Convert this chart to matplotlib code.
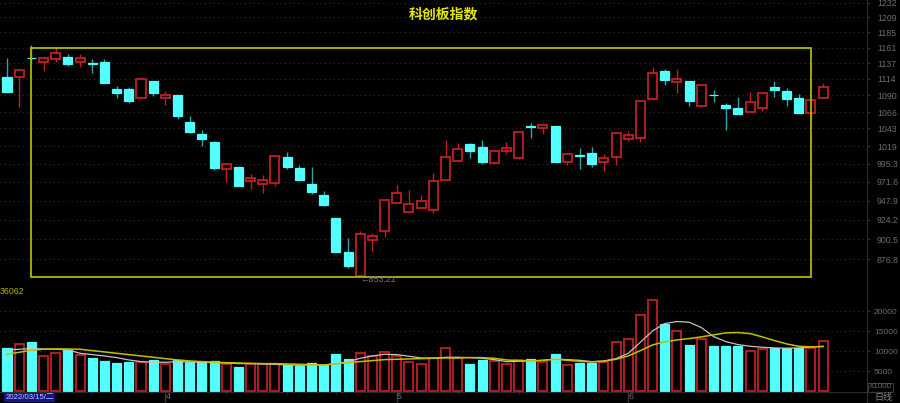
import matplotlib
matplotlib.use("Agg")
import matplotlib.pyplot as plt
from matplotlib.ticker import NullLocator, NullFormatter
from matplotlib.patches import Rectangle

plt.rcParams['font.family'] = ['Liberation Sans', 'Noto Sans CJK SC', 'DejaVu Sans']

title = "科创板指数"
price_ticks = [876.8, 900.5, 924.2, 947.9, 971.6, 995.3, 1019, 1043, 1066, 1090, 1114, 1137, 1161, 1185, 1209, 1232]
price_labels = ["876.8", "900.5", "924.2", "947.9", "971.6", "995.3", "1019", "1043", "1066", "1090", "1114", "1137", "1161", "1185", "1209", "1232"]
vol_ticks = [5000, 10000, 15000, 20000]
month_pos = [13, 32, 51]
month_labels = ["4", "5", "6"]
minor_pos = [7, 18, 23, 27, 37, 42, 47]

opens = [1117, 1116.6, 1146, 1138.7, 1144, 1146.3, 1139, 1137.6, 1138.7, 1098.5, 1098.5, 1085.4, 1111.2, 1086.3, 1089.8, 1051.4, 1034.8,
         1023.9, 988.1, 990.4, 972.8, 969, 969.8, 1003.7, 989.4, 969.5, 955, 926.2, 885.2, 858, 900, 910.3, 945.3, 933.2, 938.6,
         935.7, 974.7, 999.6, 1021.6, 1018, 996.4, 1011.7, 1003.2, 1046.7, 1043.9, 1046.3, 997.4, 1007.2, 1009, 997, 1004.5, 1028.8,
         1029.3, 1084.9, 1125.5, 1109.7, 1110.3, 1074.9, 1090.6, 1075.4, 1071.2, 1065.5, 1071.2, 1101.4, 1096, 1085.4, 1064.9, 1085.4]
highs = [1145, 1127, 1165, 1145.7, 1161.8, 1151.3, 1151.3, 1143.2, 1143.2, 1103.4, 1101.4, 1113.7, 1111.2, 1096, 1090.2, 1060.3, 1040.7,
         1025.6, 995.6, 990.4, 982.5, 980.3, 1005.8, 1011.2, 993.4, 990.4, 960, 926.2, 902.4, 910.3, 907.9, 948.2, 967.3, 960.9, 954.6,
         983.4, 1026.9, 1022.5, 1022.5, 1026.9, 1014.5, 1023.9, 1037.9, 1050, 1050, 1046.3, 1009, 1015.8, 1017.2, 1007.7, 1036.1, 1039.3,
         1081.6, 1131, 1128, 1128, 1110.3, 1104.4, 1097.5, 1078.3, 1086.9, 1095, 1094.6, 1111.2, 1100, 1091.7, 1083, 1107.3]
lows = [1094.6, 1073, 1139, 1126, 1139.5, 1133.5, 1132, 1123, 1107.3, 1086.3, 1079.1, 1085.4, 1088.7, 1075.9, 1056, 1036.6, 1018.9,
        986.8, 971.5, 966.4, 963.1, 957.1, 966, 989, 973.7, 955.9, 941, 885.2, 866.8, 858, 886, 903.1, 945.3, 932, 938.6,
        932.9, 974.7, 999.6, 1003.2, 995.6, 995.6, 1008.1, 1001, 1030.1, 1035.6, 997.8, 993.4, 988.1, 990.4, 985.9, 993.4, 1025.6,
        1024.7, 1083, 1104.8, 1093.5, 1074.4, 1074.9, 1080.6, 1040.7, 1063.5, 1065.5, 1067.7, 1087.7, 1074.4, 1064.9, 1055.6, 1085.4]
closes = [1095, 1127, 1145, 1145.7, 1153.3, 1136, 1145.7, 1136.8, 1108.2, 1092.7, 1081.1, 1113.7, 1092.7, 1090.7, 1059.8, 1037.5, 1028.4,
          989.8, 995.6, 966.4, 977.3, 974.7, 1005.8, 991.2, 974.7, 958.8, 942.8, 885.2, 869.1, 907.1, 904.3, 948.2, 957.1, 943.6, 947.3,
          972.8, 1004.5, 1014.5, 1011.7, 997.8, 1011.7, 1015.8, 1037.9, 1045.5, 1048, 997.8, 1007.7, 1006.2, 994.7, 1002.4, 1036.1, 1033.4,
          1081.1, 1122.2, 1112.7, 1113.2, 1082, 1104.4, 1089.8, 1072, 1063.5, 1080.6, 1093.1, 1097, 1084, 1064.9, 1083, 1102.3]
volumes = [10720, 11725, 12230, 8790, 9460, 10300, 9130, 8375, 7540, 7035, 7200, 7370, 7700, 6700, 7700, 7290, 7290, 7450, 6870, 5950,
           6870, 6700, 6870, 6450, 6200, 6950, 6530, 9300, 8120, 9460, 8880, 9880, 8790, 7290, 6780, 8375, 10720, 8200, 6870, 7790,
           7450, 6870, 7870, 8120, 7290, 9300, 6450, 7035, 7120, 7200, 12230, 13150, 19180, 22860, 16750, 15000, 11560, 12980, 11300, 11300,
           11300, 10130, 10550, 10890, 10800, 10720, 10800, 12560]
vol_white = [10300, 10470, 10640, 10550, 10470, 10300, 9460, 9130, 8790, 8375, 7790, 7370, 7200, 7200, 7370, 7290, 7200, 7120, 7035, 6870,
             6870, 6780, 6700, 6530, 6450, 6530, 6530, 6870, 7370, 8210, 8790, 9210, 9130, 8710, 8290, 8210, 8460, 8460, 8375, 8210,
             7870, 7370, 7450, 7540, 7700, 8040, 7870, 7700, 7370, 7540, 8120, 9460, 12230, 15075, 16920, 17420, 17250, 15910, 13650, 12400,
             11640, 11220, 10970, 10800, 10720, 10800, 11050, 11220]
vol_yellow = [9210, 9715, 10220, 10470, 10550, 10550, 10470, 10130, 9800, 9460, 9130, 8790, 8460, 8120, 7790, 7540, 7370, 7200, 7120, 7035,
              6950, 6870, 6870, 6780, 6700, 6620, 6530, 6780, 7120, 7370, 7620, 7870, 7960, 8040, 8120, 8210, 8290, 8290, 8375, 8375,
              8210, 7790, 7620, 7540, 7700, 7960, 7700, 7450, 7290, 7450, 7960, 8790, 10130, 11560, 12310, 12810, 13150, 13570, 14070, 14570,
              14660, 14400, 13570, 12650, 11810, 11220, 11050, 11140]
frame_left, frame_right = 2, 66
frame_top, frame_bottom = 1160.5, 856.5

BLACK = "#000000"
CYAN = "#54ffff"
CYAN_WICK = "#2fa5a5"
RED = "#c01f24"
FRAME = "#b4b400"
GRID = "#2e2e2e"
LINE = "#2c2c2c"
LABEL = "#6c6c6c"

W, H = 900, 403
fig = plt.figure(figsize=(W / 100, H / 100), dpi=100, facecolor=BLACK)
ax = fig.add_axes([0, 1 - 287.5 / H, 867 / W, 287.5 / H], facecolor=BLACK)
axv = fig.add_axes([0, (H - 391.7) / H, 867 / W, 104.2 / H], facecolor=BLACK)

xs = list(range(len(opens)))
up = [c >= o for o, c in zip(opens, closes)]

# candles
ax.vlines(xs, lows, highs, colors=[RED if u else CYAN_WICK for u in up], linewidth=1.0, zorder=2)
for x, o, c, u in zip(xs, opens, closes, up):
    lo, hi = min(o, c), max(o, c)
    if u:
        ax.bar(x, hi - lo, bottom=lo, width=0.74, facecolor=BLACK, edgecolor=RED, linewidth=1.3, zorder=3)
    else:
        ax.bar(x, hi - lo, bottom=lo, width=0.74, facecolor=CYAN, edgecolor=CYAN, linewidth=0.9, zorder=3)

# frame
ax.plot([frame_left, frame_right, frame_right, frame_left, frame_left],
        [frame_top, frame_top, frame_bottom, frame_bottom, frame_top],
        color=FRAME, linewidth=1.3, zorder=4, solid_joinstyle="miter")

ax.set_yscale("log")
ax.set_xlim(-0.575, 70.6)
ax.set_ylim(844.6, 1236.9)
ax.yaxis.tick_right()
ax.set_yticks(price_ticks)
ax.set_yticklabels(price_labels)
ax.yaxis.set_minor_locator(NullLocator())
ax.yaxis.set_minor_formatter(NullFormatter())
ax.set_xticks([])
ax.tick_params(axis="y", length=2.5, width=0.8, color=LINE, labelcolor=LABEL, labelsize=6.3, pad=4.7)
ax.grid(axis="y", color=GRID, linestyle=(0, (1, 3)), linewidth=0.8, zorder=0)
ax.set_axisbelow(True)
for s in ("top", "left"):
    ax.spines[s].set_visible(False)
ax.spines["right"].set_color(LINE)
ax.spines["bottom"].set_color(LINE)

ax.text(29.0, 853.21, "←853.21", color="#7a7a7a", fontsize=6.3, va="center", ha="left", zorder=5)

# volume
for x, v, u in zip(xs, volumes, up):
    if u:
        axv.bar(x, v, width=0.74, facecolor=BLACK, edgecolor=RED, linewidth=1.3, zorder=2)
    else:
        axv.bar(x, v, width=0.74, facecolor=CYAN, edgecolor=CYAN, linewidth=0.9, zorder=2)
axv.plot(xs, vol_white, color="#c4c4c4", linewidth=0.9, zorder=3)
axv.plot(xs, vol_yellow, color="#c0c000", linewidth=1.1, zorder=4)

axv.set_xlim(-0.575, 70.6)
axv.set_ylim(-170, 25950)
axv.yaxis.tick_right()
axv.set_yticks(vol_ticks)
axv.set_yticklabels([str(v) for v in vol_ticks])
axv.tick_params(axis="y", length=2.5, width=0.8, color=LINE, labelcolor=LABEL, labelsize=6.0, pad=2.5)
axv.grid(axis="y", color=GRID, linestyle=(0, (1, 3)), linewidth=0.8, zorder=0)
axv.set_axisbelow(True)
axv.set_xticks(month_pos)
axv.set_xticklabels(month_labels, ha="left")
axv.set_xticks(minor_pos, minor=True)
axv.tick_params(axis="x", which="major", direction="out", length=7.5, width=1.0, color="#3a3a3a",
                labelcolor="#707070", labelsize=6.3, pad=-7)
axv.tick_params(axis="x", which="minor", direction="out", length=1.5, width=0.8, color="#3a3a3a")
for s in ("top", "left"):
    axv.spines[s].set_visible(False)
for s in ("right", "bottom"):
    axv.spines[s].set_color(LINE)

# header and footer texts
fig.text(443 / W, 1 - 14 / H, title, color="#e6e600", fontsize=10, ha="center", va="center", weight="bold",
         family=["Noto Sans CJK SC", "DejaVu Sans"])
fig.text(0, 1 - 292 / H, "36062", color="#b4b400", fontsize=6.3, ha="left", va="center")
fig.text(29.5 / W, 1 - 397.5 / H, "2022/03/15/二", color="#b8c8ff", fontsize=5.6, ha="center", va="center",
         bbox=dict(boxstyle="square,pad=0.12", facecolor="#14148c", edgecolor="none"))
fig.text(883 / W, 1 - 397.5 / H, "日线", color="#8a8a8a", fontsize=6.5, ha="center", va="center",
         family=["Noto Sans CJK SC", "DejaVu Sans"])
fig.text(880.5 / W, 1 - 387 / H, "X1000", color="#6c6c6c", fontsize=5.8, ha="center", va="center")
fig.add_artist(Rectangle((868 / W, 1 - 391.5 / H), 25 / W, 8.5 / H, transform=fig.transFigure,
                         facecolor="none", edgecolor="#3a3a3a", linewidth=0.7))
fig.add_artist(plt.Line2D([867 / W, 867 / W], [0, 1 - 391 / H], transform=fig.transFigure, color=LINE, linewidth=0.9))

fig.savefig("out.png", dpi=100, facecolor=BLACK)
